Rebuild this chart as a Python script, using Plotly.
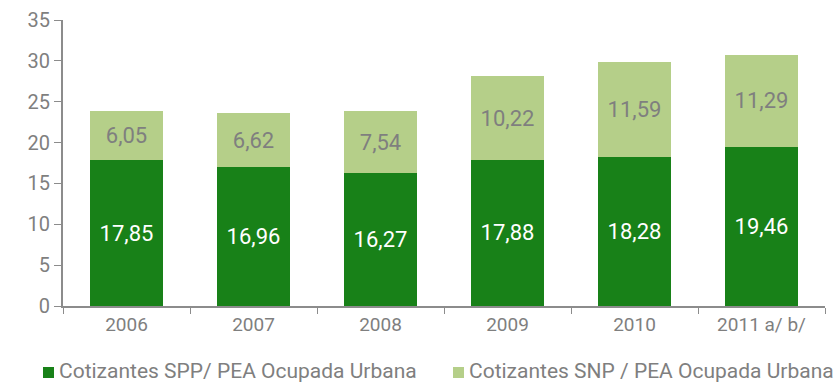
import plotly.graph_objects as go

years = ["2006", "2007", "2008", "2009", "2010", "2011 a/ b/"]
spp = [17.85, 16.96, 16.27, 17.88, 18.28, 19.46]
snp = [6.05, 6.62, 7.54, 10.22, 11.59, 11.29]
series_names = ["Cotizantes SPP/ PEA Ocupada Urbana", "Cotizantes SNP / PEA Ocupada Urbana"]
series_colors = ["#188118", "#b5cf89"]

def fmt(v):
    return f"{v:.2f}".replace(".", ",")

font_family = "Roboto, Liberation Sans, sans-serif"
gray = "#7f7f7f"
axis_gray = "#8c8c8c"

W, H = 836, 384
L, R, T, B = 63, 11, 20, 78
plot_w, plot_h = W - L - R, H - T - B

def px_x(px):
    return (px - L) / plot_w

def px_y(py):
    return (H - B - py) / plot_h

fig = go.Figure()
fig.add_bar(
    x=years, y=spp, name=series_names[0],
    marker=dict(color=series_colors[0], line=dict(width=0)),
    text=[fmt(v) for v in spp], textposition="inside", insidetextanchor="middle",
    textfont=dict(color="white", size=22, family=font_family),
)
fig.add_bar(
    x=years, y=snp, name=series_names[1],
    marker=dict(color=series_colors[1], line=dict(width=0)),
    text=[fmt(v) for v in snp], textposition="inside", insidetextanchor="middle",
    textfont=dict(color=gray, size=22, family=font_family),
)

# Legend drawn by hand along the bottom edge: swatch + label per series
legend_swatch_left = [43, 453]
for name, color, sx in zip(series_names, series_colors, legend_swatch_left):
    fig.add_shape(
        type="rect", xref="paper", yref="paper",
        x0=px_x(sx), x1=px_x(sx + 11), y0=px_y(378), y1=px_y(367),
        fillcolor=color, line=dict(width=0),
    )
    fig.add_annotation(
        xref="paper", yref="paper", x=px_x(sx + 14), y=px_y(371),
        xanchor="left", yanchor="middle", text=name, showarrow=False,
        font=dict(size=21, color=gray, family=font_family),
    )

fig.update_layout(
    barmode="stack",
    bargap=0.43,
    width=W, height=H,
    margin=dict(l=L, r=R, t=T, b=B, autoexpand=False),
    plot_bgcolor="white", paper_bgcolor="white",
    font=dict(family=font_family, color=gray, size=19),
    showlegend=False,
    xaxis=dict(
        showline=True, linecolor=axis_gray, linewidth=2,
        ticks="outside", tickson="boundaries", ticklen=6, tickcolor=axis_gray,
        tickfont=dict(size=19, color=gray), showgrid=False,
    ),
    yaxis=dict(
        range=[0, 35], dtick=5, showline=True, linecolor=axis_gray, linewidth=2,
        ticks="outside", ticklen=7, tickcolor=axis_gray,
        tickfont=dict(size=20, color=gray), showgrid=False, zeroline=False,
    ),
)

fig.write_html("out.html")
